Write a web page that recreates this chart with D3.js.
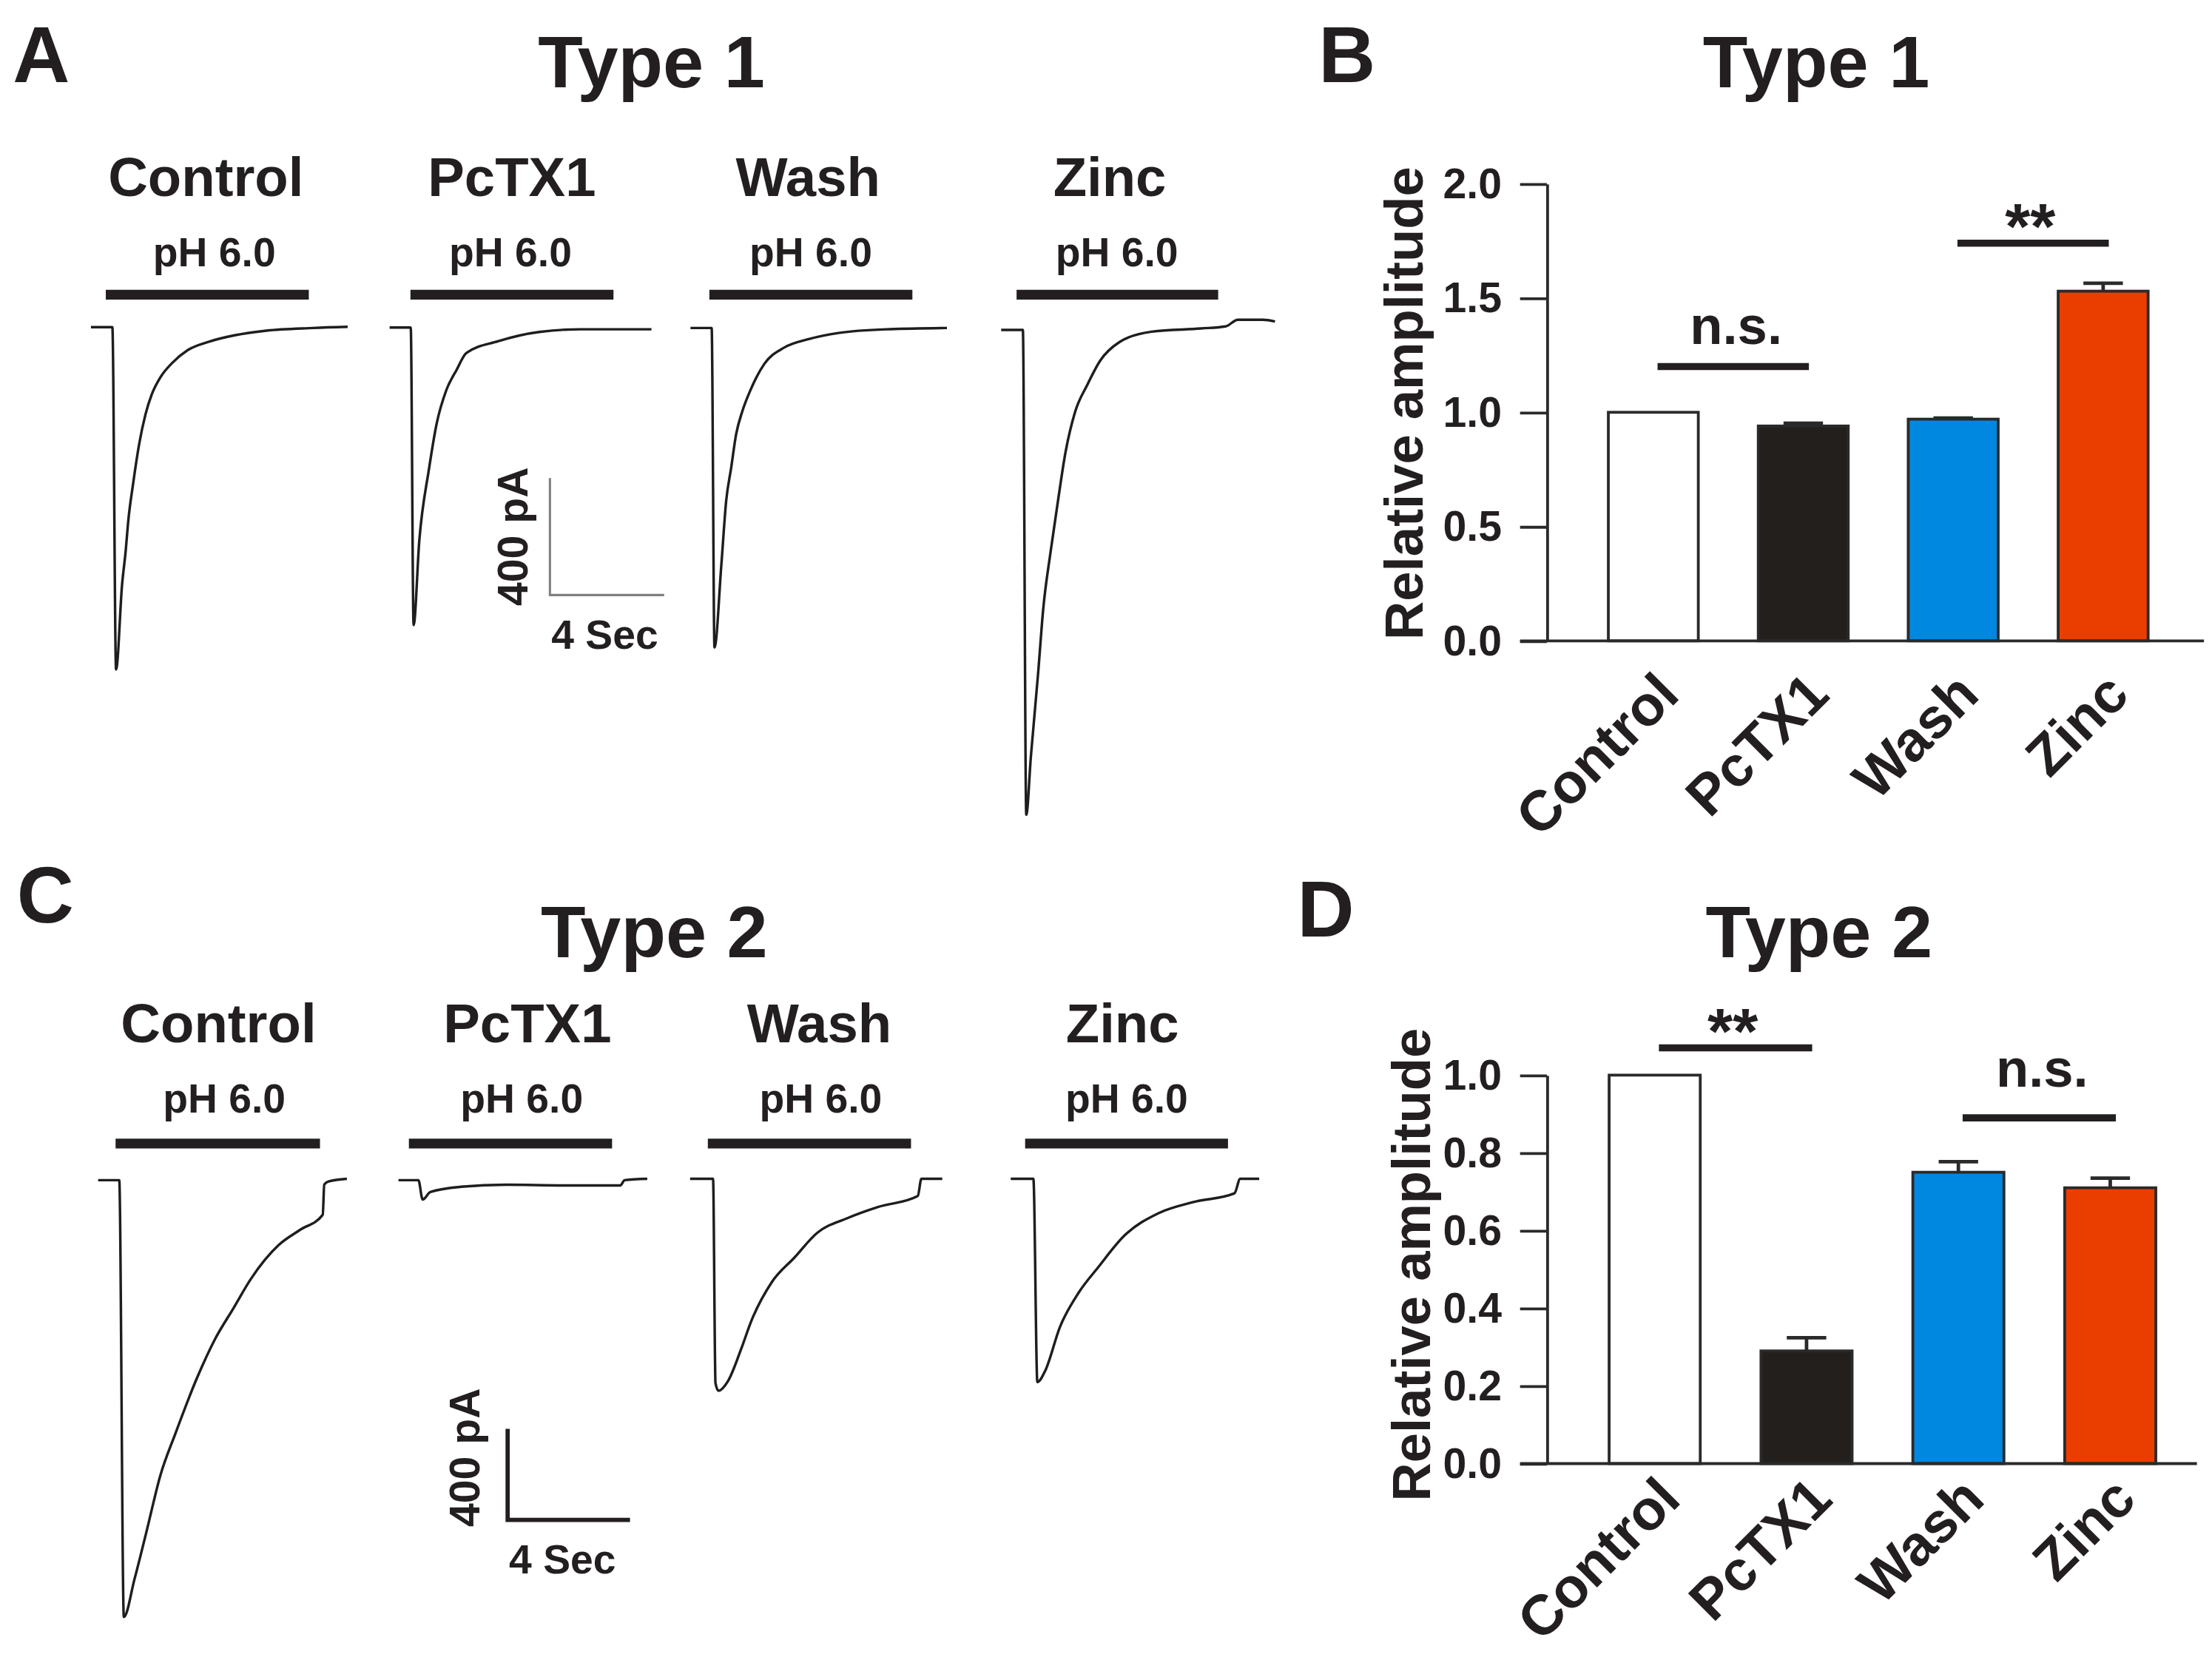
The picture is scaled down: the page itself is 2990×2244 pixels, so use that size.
<!DOCTYPE html>
<html>
<head>
<meta charset="utf-8">
<script src="https://cdn.jsdelivr.net/npm/d3@7"></script>
<style>
  body { margin: 0; background: #fff; }
  text { font-family: "Liberation Sans", Arial, sans-serif; font-weight: bold; fill: #231f20; }
</style>
</head>
<body>
<div id="fig"></div>
<script>
// ---- data ----
const conditions = ["Control", "PcTX1", "Wash", "Zinc"];
const barColors = ["#ffffff", "#231f1c", "#0088e0", "#ea3e00"];

// relative amplitude (mean, SEM)
const type1Amp = [1.0, 0.94, 0.97, 1.53];
const type1Err = [0, 0.012, 0.005, 0.035];
const type2Amp = [1.0, 0.29, 0.75, 0.71];
const type2Err = [0, 0.034, 0.027, 0.025];

const type1Ticks = [0, 0.5, 1.0, 1.5, 2.0];
const type2Ticks = [0, 0.2, 0.4, 0.6, 0.8, 1.0];

// significance brackets: [from, to, level, label level, text]
const type1Sig = [["Control", "PcTX1", 1.20, 1.30, "n.s."], ["Wash", "Zinc", 1.74, 1.74, "**"]];
const type2Sig = [["Control", "PcTX1", 1.07, 1.07, "**"], ["Wash", "Zinc", 0.89, 0.97, "n.s."]];

// current traces, time (s) and current (pA)
const ctrlA_t = [0, 0.75, 0.88, 1.09, 1.22, 1.30, 1.48, 1.69, 1.91, 2.13, 2.43, 2.86, 3.38, 4.16, 5.03, 6.14, 7.78, 8.99];
const ctrlA_i = [0, 0, -1170, -880, -761, -669, -533, -399, -298, -230, -172, -121, -79, -49, -28, -12, -3, 1];
const pcA_t = [0, 0.74, 0.84, 1.04, 1.38, 1.64, 1.99, 2.34, 2.69, 3.79, 5.24, 6.69, 9.17];
const pcA_i = [0, 0, -1017, -728, -483, -332, -213, -146, -87, -47, -15, -6, -6];
const washA_t = [0, 0.74, 0.84, 1.08, 1.25, 1.42, 1.60, 1.81, 2.11, 2.59, 3.28, 4.14, 5.18, 6.99, 8.98];
const washA_i = [0, 0, -1092, -809, -590, -480, -362, -286, -210, -122, -67, -38, -17, -4, 0];
const zincA_t = [0, 0.76, 0.88, 1.04, 1.30, 1.47, 1.73, 1.99, 2.25, 2.59, 3.02, 3.46, 4.15, 5.27, 7.00, 7.86, 8.29, 9.16, 9.59];
const zincA_i = [0, 0, -1657, -1459, -1167, -957, -759, -584, -420, -280, -187, -106, -41, -6, 5, 12, 35, 35, 29];

const ctrlC_t = [0, 0.69, 0.84, 1.19, 1.59, 2.03, 2.53, 3.22, 3.82, 4.41, 5.00, 5.90, 6.59, 7.34, 7.39, 7.53, 8.13];
const ctrlC_i = [0, 0, -1918, -1751, -1538, -1298, -1111, -872, -698, -565, -432, -285, -219, -152, -19, -6, 6];
const pcC_t = [0, 0.65, 0.79, 1.04, 2.04, 3.52, 5.41, 7.25, 7.39, 8.13];
const pcC_i = [0, 0, -85, -52, -29, -20, -23, -23, 0, 6];
const washC_t = [0, 0.75, 0.83, 0.93, 1.24, 1.67, 1.99, 2.67, 3.41, 4.15, 5.14, 6.14, 7.44, 7.56, 8.24];
const washC_i = [0, 0, -898, -931, -888, -747, -628, -454, -346, -238, -173, -124, -76, 0, 0];
const zincC_t = [0, 0.74, 0.87, 1.12, 1.61, 2.23, 2.85, 3.72, 4.83, 5.95, 7.31, 7.50, 8.12];
const zincC_i = [0, 0, -893, -845, -650, -498, -390, -249, -151, -103, -64, 0, 0];

// pH 6.0 application (s, relative to trace start)
const phA = [[0.52, 7.63], [0.73, 7.84], [0.66, 7.77], [0.54, 7.60]];
const phC = [[0.57, 7.25], [0.34, 6.98], [0.58, 7.22], [0.47, 7.10]];

// ---- drawing ----
const ink = "#231f20";
const svg = d3.select("#fig").append("svg")
  .attr("width", 2990).attr("height", 2244)
  .attr("viewBox", "0 0 1568.7 1177.3");

function label(x, y, txt, size, anchor) {
  return svg.append("text").attr("x", x).attr("y", y)
    .attr("font-size", size).attr("text-anchor", anchor || "middle").text(txt);
}

function tracePanel(p) {
  label(p.letter[0], p.letter[1], p.letter[2], 56, "start");
  label(p.titleX, p.titleY, p.title, 52);
  p.traces.forEach((tr, k) => {
    const x0 = p.x0[k], b = p.base[k];
    const x = d3.scaleLinear().domain([0, 10]).range([x0, x0 + 10 * p.kx]);
    const y = d3.scaleLinear().domain([0, -1000]).range([b, b + 1000 * p.ky]);
    label(p.condX[k], p.condY, conditions[k], 39);
    label(p.phX[k], p.phY, "pH 6.0", 29);
    svg.append("line")
      .attr("x1", x(p.ph[k][0])).attr("x2", x(p.ph[k][1]))
      .attr("y1", p.barY).attr("y2", p.barY)
      .attr("stroke", ink).attr("stroke-width", 7);
    const pts = tr.t.map((t, j) => [t, tr.i[j]]);
    svg.append("path")
      .attr("d", d3.line().x(d => x(d[0])).y(d => y(d[1])).curve(d3.curveMonotoneX)(pts))
      .attr("fill", "none").attr("stroke", "#1e1e1e").attr("stroke-width", 1.8);
  });
  // scale bar: 400 pA / 4 s
  const sx = d3.scaleLinear().domain([0, 4]).range([p.sb[0], p.sb[0] + 4 * p.kx]);
  const sy = d3.scaleLinear().domain([0, 400]).range([p.sb[1], p.sb[1] - 400 * p.ky]);
  svg.append("path")
    .attr("d", `M${sx(0)},${sy(400)}V${sy(0)}H${sx(4)}`)
    .attr("fill", "none").attr("stroke", p.sbColor).attr("stroke-width", p.sbWidth);
  svg.append("text")
    .attr("transform", `translate(${p.sbText[0]},${(sy(0) + sy(400)) / 2 + p.sbText[1]}) rotate(-90)`)
    .attr("font-size", 30).attr("text-anchor", "middle").text("400 pA");
  label(sx(0) + 1, p.secY, "4 Sec", 29, "start");
}

tracePanel({
  letter: [9, 58, "A"], title: "Type 1", titleX: 462, titleY: 62,
  condX: [146, 363, 573, 787], condY: 139,
  phX: [152, 362, 575, 792], phY: 189, barY: 209, ph: phA,
  kx: 20.25, ky: 0.2075,
  x0: [64.5, 276.3, 489.7, 710], base: [232, 232.3, 232.6, 234],
  traces: [{t: ctrlA_t, i: ctrlA_i}, {t: pcA_t, i: pcA_i}, {t: washA_t, i: washA_i}, {t: zincA_t, i: zincA_i}],
  sb: [390, 422], sbColor: "#808080", sbWidth: 1.6, sbText: [374, 0], secY: 460
});

tracePanel({
  letter: [12, 654, "C"], title: "Type 2", titleX: 464, titleY: 679,
  condX: [155, 374, 581, 796], condY: 739,
  phX: [159, 370, 582, 799], phY: 789, barY: 811, ph: phC,
  kx: 21.7, ky: 0.1615,
  x0: [69.6, 282.6, 489.4, 716.8], base: [837, 837, 836, 836],
  traces: [{t: ctrlC_t, i: ctrlC_i}, {t: pcC_t, i: pcC_i}, {t: washC_t, i: washC_i}, {t: zincC_t, i: zincC_i}],
  sb: [360, 1078], sbColor: ink, sbWidth: 3, sbText: [340, -12], secY: 1116
});

function barPanel(p) {
  label(p.letter[0], p.letter[1], p.letter[2], 56, "start");
  label(p.titleX, p.titleY, p.title, 52);
  const x = d3.scaleBand().domain(conditions).range(p.xr).paddingInner(0.4).paddingOuter(0.41);
  const y = d3.scaleLinear().domain([0, p.max]).range(p.yr);
  const g = svg.append("g");
  g.selectAll("rect").data(conditions).join("rect")
    .attr("x", d => x(d)).attr("width", x.bandwidth())
    .attr("y", (d, k) => y(p.amp[k])).attr("height", (d, k) => y(0) - y(p.amp[k]))
    .attr("fill", (d, k) => barColors[k]).attr("stroke", "#2a2a2a").attr("stroke-width", 2);
  conditions.forEach((c, k) => {
    if (!p.err[k]) return;
    const cx = x(c) + x.bandwidth() / 2;
    g.append("path")
      .attr("d", `M${cx},${y(p.amp[k])}V${y(p.amp[k] + p.err[k])}M${cx - 14},${y(p.amp[k] + p.err[k])}H${cx + 14}`)
      .attr("fill", "none").attr("stroke", "#2a2a2a").attr("stroke-width", 2.5);
  });
  const ax = svg.append("g").attr("transform", `translate(${p.xr[0]},0)`)
    .call(d3.axisLeft(y).tickValues(p.ticks).tickFormat(d3.format(".1f"))
      .tickSize(19).tickPadding(13).tickSizeOuter(0))
    .attr("font-size", 30);
  ax.selectAll("path, line").attr("stroke", "#2a2a2a").attr("stroke-width", 2);
  svg.append("line").attr("x1", p.xr[0] - 19).attr("x2", p.axisEnd)
    .attr("y1", y(0)).attr("y2", y(0)).attr("stroke", "#2a2a2a").attr("stroke-width", 2);
  svg.append("text")
    .attr("transform", `translate(${p.ylab[0]},${p.ylab[1]}) rotate(-90)`)
    .attr("font-size", 38).attr("text-anchor", "middle").text("Relative amplitude");
  conditions.forEach(c => {
    svg.append("text")
      .attr("transform", `translate(${x(c) + x.bandwidth() / 2 + p.lab[0]},${y(0) + p.lab[1]}) rotate(-45)`)
      .attr("font-size", 40).attr("text-anchor", "end").text(c);
  });
  p.sig.forEach(s => {
    const a = x(s[0]) + x.bandwidth() / 2 + 3, b = x(s[1]) + x.bandwidth() / 2 + 4;
    svg.append("line").attr("x1", a).attr("x2", b).attr("y1", y(s[2])).attr("y2", y(s[2]))
      .attr("stroke", ink).attr("stroke-width", 5);
    const star = s[4] === "**";
    label((a + b) / 2 + (star ? -2 : 2), y(s[3]) + (star ? 4 : 0), s[4], star ? 46 : 38);
  });
}

barPanel({
  letter: [935, 58, "B"], title: "Type 1", titleX: 1288, titleY: 62,
  xr: [1097, 1567], yr: [454.5, 130.3], max: 2, axisEnd: 1563,
  amp: type1Amp, err: type1Err, ticks: type1Ticks, sig: type1Sig,
  ylab: [1009, 286], lab: [20, 40]
});

barPanel({
  letter: [920, 664, "D"], title: "Type 2", titleX: 1290, titleY: 679,
  xr: [1097, 1573], yr: [1038, 762.5], max: 1, axisEnd: 1558,
  amp: type2Amp, err: type2Err, ticks: type2Ticks, sig: type2Sig,
  ylab: [1014, 897], lab: [20, 27]
});
</script>
</body>
</html>
